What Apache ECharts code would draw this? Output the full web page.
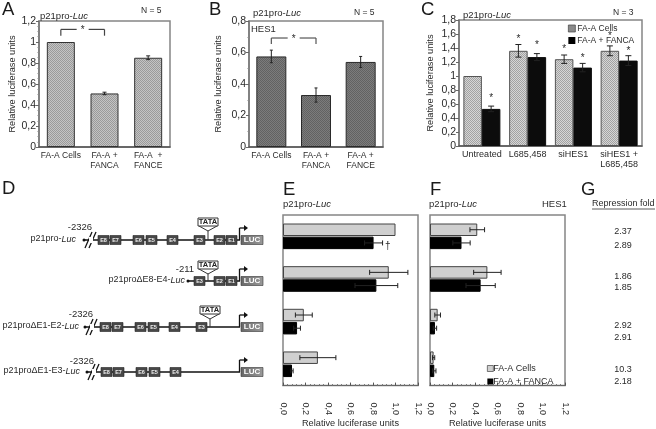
<!DOCTYPE html>
<html><head><meta charset="utf-8">
<style>html,body{margin:0;padding:0;background:#fff}#c{width:656px;height:429px}</style>
<script src="https://cdn.jsdelivr.net/npm/echarts@6/dist/echarts.min.js"></script>
</head><body><div id="c"></div>
<script>
// ---------- data ----------
const catsA = ['FA-A Cells', 'FA-A +\nFANCA', 'FA-A  +\nFANCE'];
const valsA = [1, 0.51, 0.85];
const errA  = [0, 0.012, 0.018];
const catsB = ['FA-A Cells', 'FA-A +\nFANCA', 'FA-A +\nFANCE'];
const valsB = [0.575, 0.33, 0.54];
const errB  = [0.04, 0.045, 0.035];
const catsC = ['Untreated', 'L685,458', 'siHES1', 'siHES1 +\nL685,458'];
const valsCGrey  = [1, 1.36, 1.24, 1.36];
const errCGrey   = [0, 0.09, 0.06, 0.07];
const valsCBlack = [0.53, 1.27, 1.12, 1.22];
const errCBlack  = [0.04, 0.05, 0.06, 0.07];
const starsCGrey  = [null, 1.54, 1.40, 1.59];
const starsCBlack = [0.71, 1.46, 1.28, 1.37];
const rows = ['r1', 'r2', 'r3', 'r4'];
const valsEGrey  = [1, 0.94, 0.185, 0.31];
const errEGrey   = [0, 0.17, 0.075, 0.16];
const valsEBlack = [0.805, 0.83, 0.125, 0.08];
const errEBlack  = [0.08, 0.19, 0.03, 0.01];
const valsFGrey  = [0.42, 0.51, 0.068, 0.032];
const errFGrey   = [0.065, 0.122, 0.025, 0.01];
const valsFBlack = [0.28, 0.45, 0.044, 0.038];
const errFBlack  = [0.077, 0.13, 0.015, 0.015];
const foldGrey  = ['2.37', '1.86', '2.92', '10.3'];
const foldBlack = ['2.89', '1.85', '2.91', '2.18'];
const constructs = [
  { parts: ['p21pro-', 'Luc'], start: '-2326', exons: ['E8','E7','E6','E5','E4','E3','E2','E1'], tata: true, cut: true },
  { parts: ['p21pro\u0394E8-E4-', 'Luc'], start: '-211', exons: ['E3','E2','E1'], tata: true, cut: false },
  { parts: ['p21pro\u0394E1-E2-', 'Luc'], start: '-2326', exons: ['E8','E7','E6','E5','E4','E3'], tata: true, cut: true },
  { parts: ['p21pro\u0394E1-E3-', 'Luc'], start: '-2326', exons: ['E8','E7','E6','E5','E4'], tata: false, cut: true }
];
const nameGrey = 'FA-A Cells', nameBlack = 'FA-A + FANCA';

// ---------- helpers ----------
const FONT = '"Liberation Sans", Arial, sans-serif';
const INK = '#2a2a2a', FRAME = '#858585';
function hatch(a, b) {
  const c = document.createElement('canvas'); c.width = 4; c.height = 4;
  const g = c.getContext('2d');
  g.fillStyle = a; g.fillRect(0, 0, 4, 4);
  g.fillStyle = b;
  [[0,0],[2,0],[1,1],[3,1],[0,2],[2,2],[1,3],[3,3]].forEach(p => g.fillRect(p[0], p[1], 1, 1));
  return { image: c, repeat: 'repeat' };
}
const lightHatch = hatch('#d6d6d6', '#a2a2a2');
const midHatch = hatch('#c4c4c4', '#9a9a9a');
const darkHatch = hatch('#7c7c7c', '#626262');
const comma = v => String(Math.round(v * 10) / 10).replace('.', ',');
const comma1 = v => v.toFixed(1).replace('.', ',');

const grids = [
  { left: 39, top: 21, width: 131, height: 126 },
  { left: 249, top: 21, width: 134, height: 126 },
  { left: 459, top: 20, width: 183, height: 126 },
  { left: 283, top: 215, width: 135, height: 181 },
  { left: 430, top: 215, width: 135, height: 180 }
].map(g => Object.assign({ show: true, borderColor: FRAME, borderWidth: 1.5, backgroundColor: 'transparent' }, g));

function catX(idx, cats, size) {
  return { type: 'category', gridIndex: idx, data: cats,
    axisLine: { lineStyle: { color: '#555', width: 1.5 } }, axisTick: { show: false },
    axisLabel: { color: INK, fontSize: size, fontFamily: FONT, margin: 4, lineHeight: 10, interval: 0 } };
}
function valY(idx, max, interval, gap) {
  return { type: 'value', gridIndex: idx, min: 0, max, interval,
    name: 'Relative luciferase units', nameLocation: 'middle', nameGap: gap,
    nameTextStyle: { color: INK, fontSize: 9.2, fontFamily: FONT },
    splitLine: { show: false },
    axisLine: { show: true, lineStyle: { color: '#777', width: 1.5 } },
    axisTick: { show: true, length: 3, lineStyle: { color: '#666' } },
    minorTick: { show: true, splitNumber: 4, length: 1.5, lineStyle: { color: '#888' } },
    axisLabel: { color: INK, fontSize: 10.5, fontFamily: FONT, margin: 3, formatter: comma } };
}
function hValX(idx) {
  return { type: 'value', gridIndex: idx, min: 0, max: 1.2, interval: 0.2,
    name: 'Relative luciferase units', nameLocation: 'middle', nameGap: 24,
    nameTextStyle: { color: INK, fontSize: 9.2, fontFamily: FONT },
    splitLine: { show: false },
    axisLine: { show: true, lineStyle: { color: '#666', width: 1 } },
    axisTick: { show: true, inside: true, length: 3, lineStyle: { color: '#555' } },
    minorTick: { show: true, splitNumber: 5, length: 1.5, lineStyle: { color: '#777' } },
    axisLabel: { color: INK, fontSize: 9, fontFamily: FONT, rotate: -90, margin: 17, formatter: comma1 } };
}
function hCatY(idx) {
  return { type: 'category', gridIndex: idx, data: rows, inverse: true,
    axisLine: { show: false }, axisTick: { show: false }, axisLabel: { show: false } };
}
function bar(idx, name, vals, color, width, gap, border) {
  return { type: 'bar', name, xAxisIndex: idx, yAxisIndex: idx, data: vals, barWidth: width, barGap: gap,
    itemStyle: { color, borderColor: border, borderWidth: 1 }, silent: true };
}
function vErr(idx, vals, errs, offset, cap) {
  return { type: 'custom', xAxisIndex: idx, yAxisIndex: idx, silent: true, z: 5,
    data: vals.map((v, i) => [i, v, errs[i]]),
    renderItem: (p, api) => {
      const i = api.value(0), v = api.value(1), e = api.value(2);
      if (!e) return null;
      const x = api.coord([i, v])[0] + offset, a = api.coord([i, v + e])[1], b = api.coord([i, v - e])[1];
      const s = { stroke: '#222', lineWidth: 1 };
      return { type: 'group', children: [
        { type: 'line', shape: { x1: x, y1: a, x2: x, y2: b }, style: s },
        { type: 'line', shape: { x1: x - cap, y1: a, x2: x + cap, y2: a }, style: s },
        { type: 'line', shape: { x1: x - cap, y1: b, x2: x + cap, y2: b }, style: s }
      ] };
    } };
}
function hErr(idx, vals, errs, offset) {
  return { type: 'custom', xAxisIndex: idx, yAxisIndex: idx, silent: true, z: 5,
    data: vals.map((v, i) => [v, i, errs[i]]),
    renderItem: (p, api) => {
      const v = api.value(0), i = api.value(1), e = api.value(2);
      if (!e) return null;
      const y = api.coord([v, i])[1] + offset, a = api.coord([v + e, i])[0], b = api.coord([Math.max(v - e, 0), i])[0];
      const s = { stroke: '#222', lineWidth: 1 };
      return { type: 'group', children: [
        { type: 'line', shape: { x1: a, y1: y, x2: b, y2: y }, style: s },
        { type: 'line', shape: { x1: a, y1: y - 2.5, x2: a, y2: y + 2.5 }, style: s },
        { type: 'line', shape: { x1: b, y1: y - 2.5, x2: b, y2: y + 2.5 }, style: s }
      ] };
    } };
}
function bracket(idx, from, to, top, drop, star, col) {
  return { type: 'custom', xAxisIndex: idx, yAxisIndex: idx, silent: true, z: 6, data: [[from, to, top, drop]],
    renderItem: (p, api) => {
      const l = api.coord([api.value(0), api.value(2)]), r = api.coord([api.value(1), api.value(2)]);
      const d = api.coord([api.value(0), api.value(3)])[1];
      const m = (l[0] + r[0]) / 2, s = { stroke: col, lineWidth: 1.2 };
      return { type: 'group', children: [
        { type: 'line', shape: { x1: l[0], y1: d, x2: l[0], y2: l[1] }, style: s },
        { type: 'line', shape: { x1: l[0], y1: l[1], x2: m - 6, y2: l[1] }, style: s },
        { type: 'line', shape: { x1: m + 6, y1: l[1], x2: r[0], y2: l[1] }, style: s },
        { type: 'line', shape: { x1: r[0], y1: l[1], x2: r[0], y2: d }, style: s },
        { type: 'text', x: m, y: l[1] + 1, style: { text: star, fontSize: 10, fontFamily: FONT, fill: INK, align: 'center', verticalAlign: 'middle' } }
      ] };
    } };
}
function stars(idx, vals, offset) {
  return { type: 'custom', xAxisIndex: idx, yAxisIndex: idx, silent: true, z: 6,
    data: vals.map((v, i) => [i, v]).filter(d => d[1] !== null),
    renderItem: (p, api) => {
      const c = api.coord([api.value(0), api.value(1)]);
      return { type: 'text', x: c[0] + offset, y: c[1] + 1.5, style: { text: '*', fontSize: 10, fontFamily: FONT, fill: INK, align: 'center', verticalAlign: 'middle' } };
    } };
}

// ---------- free-standing text and construct drawings ----------
const gfx = [];
function txt(x, y, text, o) {
  gfx.push({ type: 'text', x, y, silent: true, rotation: (o && o.rot) || 0, style: Object.assign({
    text, fontFamily: FONT, fontSize: 9.5, fill: INK, align: 'left', verticalAlign: 'middle',
    rich: { i: { fontStyle: 'italic', fontFamily: FONT, fontSize: (o && o.fontSize) || 9.5, fill: INK } } }, o || {}) });
}
[['A',2,10],['B',209,10],['C',421,10],['D',2,189],['E',283,190],['F',430,190],['G',581,190]]
  .forEach(t => txt(t[1], t[2], t[0], { fontSize: 18.5, fill: '#1a1a1a' }));
[[40,16],[253,13],[463,15],[283,204],[429,204]].forEach(t => txt(t[0], t[1], 'p21pro-{i|Luc}'));
txt(141, 11, 'N = 5', { fontSize: 8.5 });
txt(354, 13, 'N = 5', { fontSize: 8.5 });
txt(613, 13, 'N = 3', { fontSize: 8.5 });
txt(251, 29, 'HES1', { fontSize: 9.5 });
txt(542, 204, 'HES1', { fontSize: 9.5 });
txt(385, 246, '\u2020', { fontSize: 10 });
txt(592, 204, 'Repression fold', { fontSize: 9 });
gfx.push({ type: 'line', silent: true, shape: { x1: 592, y1: 209, x2: 655, y2: 209 }, style: { stroke: '#333', lineWidth: 0.8 } });
const foldYGrey = [232, 277, 326, 370], foldYBlack = [246, 288, 338, 382];
foldGrey.forEach((t, i) => txt(623, foldYGrey[i], t, { fontSize: 9, align: 'center' }));
foldBlack.forEach((t, i) => txt(623, foldYBlack[i], t, { fontSize: 9, align: 'center' }));

const exonX = { E8: 98, E7: 110, E6: 133, E5: 146, E4: 167, E3: 194, E2: 214, E1: 226 };
const rowLayout = [
  { y: 240, dx: 0, labelRight: 76, startX: 80, startY: 227, lineFrom: 84, tataY: 218 },
  { y: 281, dx: 0, labelRight: 185, startX: 185, startY: 269, lineFrom: 188, tataY: 261 },
  { y: 327, dx: 2, labelRight: 79, startX: 81, startY: 314, lineFrom: 85, tataY: 306 },
  { y: 372, dx: 3, labelRight: 80, startX: 82, startY: 361, lineFrom: 87, tataY: 0 }
];
function seg(x1, y1, x2, y2, w, c) {
  gfx.push({ type: 'line', silent: true, shape: { x1, y1, x2, y2 }, style: { stroke: c || '#111', lineWidth: w || 1 } });
}
constructs.forEach((c, r) => {
  const L = rowLayout[r], y = L.y;
  txt(L.labelRight, y - 1, c.parts[0] + '{i|' + c.parts[1] + '}', { align: 'right', fontSize: 9 });
  txt(L.startX, L.startY, c.start, { align: 'center', fontSize: 9.5 });
  seg(L.lineFrom, y, 240, y, 1.6);
  gfx.push({ type: 'circle', silent: true, shape: { cx: L.lineFrom, cy: y, r: 1.5 }, style: { fill: '#111' } });
  if (c.cut) {
    const cx = L.lineFrom + 7;
    gfx.push({ type: 'rect', silent: true, z: 1, shape: { x: cx - 2, y: y - 3, width: 4, height: 6 }, style: { fill: '#fff' } });
    seg(cx - 6, y + 8, cx + 1, y - 8, 1.3);
    seg(cx - 2, y + 8, cx + 5, y - 8, 1.3);
  }
  if (c.tata) {
    const tx = exonX.E3 + L.dx + 4, ty = L.tataY, cx = tx + 10;
    seg(cx, ty + 12, cx, y, 1, '#333');
    gfx.push({ type: 'polyline', silent: true, shape: { points: [[tx + 1, ty + 8], [cx, ty + 13], [tx + 19, ty + 8]] }, style: { stroke: '#333', lineWidth: 1, fill: '#fff' } });
    gfx.push({ type: 'rect', silent: true, shape: { x: tx, y: ty, width: 20, height: 8 }, style: { fill: '#fff', stroke: '#333', lineWidth: 1 } });
    txt(cx, ty + 4.3, 'TATA', { fontSize: 7.5, fontWeight: 'bold', align: 'center', fill: '#222' });
  }
  c.exons.forEach(e => {
    const x = exonX[e] + L.dx;
    gfx.push({ type: 'rect', silent: true, shape: { x, y: y - 4.5, width: 11, height: 9 }, style: { fill: '#484848', stroke: '#222', lineWidth: 0.6 } });
    txt(x + 5.5, y + 0.2, e, { fontSize: 5.5, fontWeight: 'bold', align: 'center', fill: '#eee' });
  });
  gfx.push({ type: 'rect', silent: true, shape: { x: 241, y: y - 4.5, width: 22, height: 9 }, style: {
    fill: { type: 'linear', x: 0, y: 0, x2: 1, y2: 0, colorStops: [{ offset: 0, color: '#666' }, { offset: 1, color: '#9a9a9a' }] }, stroke: '#333', lineWidth: 0.6 } });
  txt(252, y + 0.2, 'LUC', { fontSize: 8, fontWeight: 'bold', align: 'center', fill: '#fff' });
  seg(239.5, y, 239.5, y - 12, 1.3);
  seg(239.5, y - 12, 244, y - 12, 1.3);
  gfx.push({ type: 'polygon', silent: true, shape: { points: [[244, y - 15], [248, y - 12], [244, y - 9]] }, style: { fill: '#111' } });
});

// ---------- chart ----------
const yC = valY(2, 1.8, 0.2, 24.5); yC.minorTick.show = false;
const yB = valY(1, 0.8, 0.2, 26); yB.minorTick.splitNumber = 2;
function legendItems(greyColor) {
  return [
    { name: nameGrey, itemStyle: { color: greyColor, borderColor: '#444', borderWidth: 0.7 } },
    { name: nameBlack, itemStyle: { color: '#000', borderColor: '#000', borderWidth: 0 } }
  ];
}
const chart = echarts.init(document.getElementById('c'), null, { renderer: 'canvas' });
chart.setOption({
  animation: false,
  textStyle: { fontFamily: FONT },
  grid: grids,
  xAxis: [catX(0, catsA, 8.5), catX(1, catsB, 8.5), catX(2, catsC, 9), hValX(3), hValX(4)],
  yAxis: [valY(0, 1.2, 0.2, 22), yB, yC, hCatY(3), hCatY(4)],
  legend: [
    { data: legendItems('#8a8a8a'), orient: 'vertical', left: 568, top: 24, itemWidth: 7, itemHeight: 7, itemGap: 3, icon: 'rect', selectedMode: false,
      textStyle: { fontSize: 8.5, color: INK, fontFamily: FONT, padding: [0, 0, 0, -3] }, padding: 0 },
    { data: legendItems('#cfcfcf'), orient: 'vertical', left: 487, top: 364, itemWidth: 6, itemHeight: 6, itemGap: 4, icon: 'rect', selectedMode: false,
      textStyle: { fontSize: 9, color: INK, fontFamily: FONT, padding: [0, 0, 0, -5] }, padding: 0 }
  ],
  graphic: { elements: gfx },
  series: [
    bar(0, 'A', valsA, midHatch, 28, '0%', '#333'),
    vErr(0, valsA, errA, 0, 2),
    bracket(0, 0, 1, 1.12, 1.06, '*', '#444'),
    bar(1, 'B', valsB, darkHatch, 30, '0%', '#2a2a2a'),
    vErr(1, valsB, errB, 0, 1.5),
    bracket(1, 0, 1, 0.692, 0.654, '*', '#555'),
    bar(2, nameGrey, valsCGrey, lightHatch, 18.5, '0%', '#555'),
    bar(2, nameBlack, valsCBlack, '#0c0c0c', 18.5, '0%', '#0c0c0c'),
    vErr(2, valsCGrey, errCGrey, -9.25, 3),
    vErr(2, valsCBlack, errCBlack, 9.25, 3),
    stars(2, starsCGrey, -9.25),
    stars(2, starsCBlack, 9.25),
    bar(3, nameGrey, valsEGrey, '#cfcfcf', 12.5, '5%', '#444'),
    bar(3, nameBlack, valsEBlack, '#000', 12.5, '5%', '#000'),
    hErr(3, valsEGrey, errEGrey, -6.6),
    hErr(3, valsEBlack, errEBlack, 6.6),
    bar(4, nameGrey, valsFGrey, '#cfcfcf', 12.5, '5%', '#444'),
    bar(4, nameBlack, valsFBlack, '#000', 12.5, '5%', '#000'),
    hErr(4, valsFGrey, errFGrey, -6.6),
    hErr(4, valsFBlack, errFBlack, 6.6)
  ]
});
</script></body></html>
